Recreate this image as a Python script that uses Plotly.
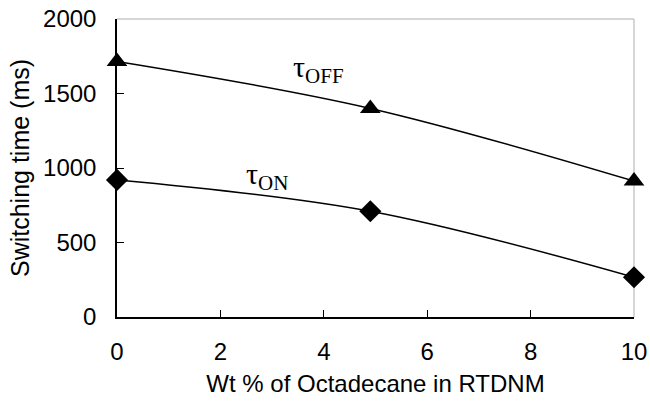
import plotly.graph_objects as go

wt = [0, 4.9, 10]
tau_off = [1715, 1400, 912]
tau_on = [920, 710, 267]
x_ticks = [0, 2, 4, 6, 8, 10]
y_ticks = [0, 500, 1000, 1500, 2000]

fig = go.Figure()
fig.add_trace(go.Scatter(x=wt, y=tau_off, mode="lines+markers", line=dict(color="black", width=1.5, shape="spline"),
                         marker=dict(symbol="triangle-up", size=18, color="black"), cliponaxis=False))
fig.add_trace(go.Scatter(x=wt, y=tau_on, mode="lines+markers", line=dict(color="black", width=1.5, shape="spline"),
                         marker=dict(symbol="diamond", size=17, color="black"), cliponaxis=False))

axfont = dict(family="Liberation Sans, Arial", size=24, color="black")
fig.update_xaxes(range=[0, 10], tickvals=x_ticks, ticks="inside", ticklen=7, tickcolor="black",
                 showline=True, linecolor="black", linewidth=1.5, showgrid=False, zeroline=False,
                 tickfont=axfont, ticklabelstandoff=12, automargin=False,
                 title=dict(text="Wt % of Octadecane in RTDNM", font=dict(family="Liberation Sans, Arial", size=24, color="black"), standoff=12))
fig.update_yaxes(range=[0, 2000], tickvals=y_ticks, ticks="inside", ticklen=7, tickcolor="black",
                 showline=True, linecolor="black", linewidth=1.5, showgrid=False, zeroline=False,
                 tickfont=axfont, ticklabelstandoff=14, automargin=False,
                 title=dict(text="Switching time (ms)", font=dict(family="Liberation Sans, Arial", size=25, color="black"), standoff=6))

fig.add_shape(type="line", xref="paper", yref="paper", x0=0, x1=1, y0=1, y1=1, layer="below", line=dict(color="#c8c8c8", width=1.5))
fig.add_shape(type="line", xref="paper", yref="paper", x0=1, x1=1, y0=0, y1=1, layer="below", line=dict(color="#c8c8c8", width=1.5))

tfont = dict(family="Liberation Serif, Times New Roman", size=30, color="black")
fig.add_annotation(x=3.9, y=1664, text="τ<sub>OFF</sub>", showarrow=False, font=tfont, xanchor="center", yanchor="middle")
fig.add_annotation(x=2.9, y=946, text="τ<sub>ON</sub>", showarrow=False, font=tfont, xanchor="center", yanchor="middle")

fig.update_layout(width=650, height=407, margin=dict(l=117, r=16, t=19, b=90), showlegend=False,
                  plot_bgcolor="white", paper_bgcolor="white")
fig.write_html("out.html")
